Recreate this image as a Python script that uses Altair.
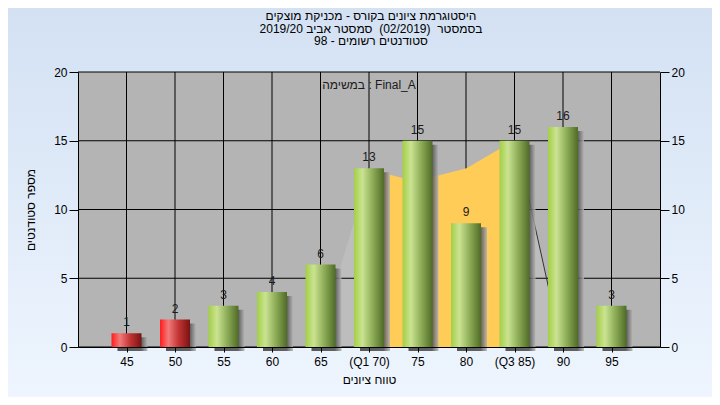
import json
import altair as alt
import pandas as pd

# ---------------- data ----------------
categories = ["45", "50", "55", "60", "65", "(Q1 70)", "75", "80", "(Q3 85)", "90", "95"]
counts = [1, 2, 3, 4, 6, 13, 15, 9, 15, 16, 3]
groups = ["r", "r", "g", "g", "g", "g", "g", "g", "g", "g", "g"]

y_ticks = [0, 5, 10, 15, 20]

# distribution curve behind the bars (x in category-position units)
curve_left_x = [4.92, 5.39, 5.70, 6.00]
curve_left_y = [0.0, 5.6, 9.2, 12.7]
curve_mid_x = [6.00, 6.30, 6.69, 7.31, 8.01, 8.69, 9.00]
curve_mid_y = [12.7, 12.65, 12.3, 12.36, 13.0, 14.4, 15.0]
curve_right_x = [9.00, 9.29, 9.66, 9.97]
curve_right_y = [15.0, 10.9, 5.0, 0.0]

title_lines = [
    "היסטוגרמת ציונים בקורס - מכניקת מוצקים",
    "\u202bבסמסטר\u00a0\u00a0(02/2019)\u00a0\u00a0סמסטר אביב 2019/20\u202c",
    "\u202bסטודנטים רשומים - 98\u202c",
]
note_text = ["במשימה : Final_A"]
note_pos = [6]
note_val = [19.05]
x_title = "טווח ציונים"
y_title = "מספר סטודנטים"

# ---------------- frames ----------------
positions = list(range(1, len(categories) + 1))
bars_df = pd.DataFrame({"pos": positions, "label": categories, "count": counts, "grp": groups})
ygrid_df = pd.DataFrame({"v": y_ticks})
xgrid_df = pd.DataFrame({"pos": positions})
curve_df = pd.DataFrame({
    "pos": curve_left_x + curve_mid_x + curve_right_x,
    "val": curve_left_y + curve_mid_y + curve_right_y,
    "seg": ["left"] * len(curve_left_x) + ["mid"] * len(curve_mid_x) + ["right"] * len(curve_right_x),
})
right_df = pd.DataFrame({"pos": curve_right_x, "val": curve_right_y})
note_df = pd.DataFrame({"pos": note_pos, "val": note_val, "t": note_text})
one_df = pd.DataFrame({"a": [0]})

# ---------------- layout / style ----------------
W, H = 582, 275
PAD_L, PAD_T = 70, 64
TOTAL_W, TOTAL_H = 704, 389
FONT = "Liberation Sans"

xscale = alt.Scale(domain=[0, len(categories) + 1], nice=False, zero=False, padding=0)
yscale = alt.Scale(domain=[0, 20], nice=False, padding=0)

label_expr = json.dumps(categories) + "[datum.value - 1]"
xax = alt.Axis(values=positions, labelExpr=label_expr, title=x_title, grid=False,
               tickSize=5, labelPadding=4, titlePadding=7, domainColor="black",
               tickColor="black", labelColor="black", titleColor="black",
               labelFont=FONT, titleFont=FONT, labelFontSize=12, titleFontSize=12,
               titleFontWeight="normal", zindex=1, labelFlush=False)

def yaxis(orient, title):
    return alt.Axis(orient=orient, values=y_ticks, title=title, grid=False, tickSize=9,
                    labelPadding=2, titlePadding=16, domainColor="black", tickColor="black",
                    labelColor="black", titleColor="black", labelFont=FONT, titleFont=FONT,
                    labelFontSize=12, titleFontSize=12, titleFontWeight="normal", zindex=1)

X = alt.X("pos:Q", scale=xscale, axis=xax)

bg_grad = alt.Gradient(gradient="linear", x1=0, x2=0, y1=0, y2=1, stops=[
    alt.GradientStop(color="#d3e1f3", offset=0),
    alt.GradientStop(color="#eef5fe", offset=1)])
green_grad = alt.Gradient(gradient="linear", x1=0, x2=1, y1=0, y2=0, stops=[
    alt.GradientStop(color="#a3cf45", offset=0),
    alt.GradientStop(color="#cae392", offset=0.28),
    alt.GradientStop(color="#8ead58", offset=0.62),
    alt.GradientStop(color="#4f6b26", offset=1)])
red_grad = alt.Gradient(gradient="linear", x1=0, x2=1, y1=0, y2=0, stops=[
    alt.GradientStop(color="#ff1c1c", offset=0),
    alt.GradientStop(color="#f27a7a", offset=0.28),
    alt.GradientStop(color="#c23434", offset=0.62),
    alt.GradientStop(color="#7a1212", offset=1)])
shadow_grad = alt.Gradient(gradient="linear", x1=0, x2=1, y1=0, y2=0, stops=[
    alt.GradientStop(color="#3c3c3c", offset=0),
    alt.GradientStop(color="#4a4a4a", offset=0.78),
    alt.GradientStop(color="#b4b4b4", offset=1)])

bg = alt.Chart(one_df).mark_rect(fill=bg_grad).encode(
    x=alt.value(-PAD_L), x2=alt.value(TOTAL_W - PAD_L),
    y=alt.value(-PAD_T), y2=alt.value(TOTAL_H - PAD_T))
plot_bg = alt.Chart(one_df).mark_rect(fill="#b4b4b4").encode(
    x=alt.value(0), x2=alt.value(W), y=alt.value(0), y2=alt.value(H))

gray_area = alt.Chart(curve_df).transform_filter("datum.seg != 'mid'").mark_area(
    color="#bdbdbd").encode(x=X, y=alt.Y("val:Q", scale=yscale, axis=None, stack=None),
                            detail="seg:N")

hgrid = alt.Chart(ygrid_df).mark_rule(color="black", strokeWidth=1).encode(
    y=alt.Y("v:Q", scale=yscale, axis=yaxis("right", "")))
vgrid = alt.Chart(xgrid_df).mark_rule(color="black", strokeWidth=1).encode(x=X)

orange = alt.Chart(curve_df).transform_filter("datum.seg == 'mid'").mark_area(
    color="#ffcc58").encode(x=X, y=alt.Y("val:Q", scale=yscale, axis=None, stack=None))
dline = alt.Chart(right_df).mark_line(color="#333333", strokeWidth=1).encode(
    x=X, y=alt.Y("val:Q", scale=yscale, axis=None))

shadow = alt.Chart(bars_df).mark_bar(size=30, xOffset=6, yOffset=4, fill=shadow_grad,
                                     opacity=0.85).encode(
    x=X, y=alt.Y("count:Q", scale=yscale, axis=None))
green = alt.Chart(bars_df).transform_filter("datum.grp == 'g'").mark_bar(
    size=30, fill=green_grad).encode(
    x=X, y=alt.Y("count:Q", scale=yscale, axis=yaxis("left", y_title)))
red = alt.Chart(bars_df).transform_filter("datum.grp == 'r'").mark_bar(
    size=30, fill=red_grad).encode(x=X, y=alt.Y("count:Q", scale=yscale, axis=None))
labels = alt.Chart(bars_df).mark_text(font=FONT, fontSize=12, color="#1a1a1a",
                                      baseline="alphabetic", dy=-7).encode(
    x=X, y=alt.Y("count:Q", scale=yscale, axis=None), text="count:Q")
note = alt.Chart(note_df).mark_text(font=FONT, fontSize=12, color="#1a1a1a",
                                    baseline="middle").encode(
    x=X, y=alt.Y("val:Q", scale=yscale, axis=None), text="t:N")

chart = alt.layer(bg, plot_bg, gray_area, hgrid, vgrid, orange, dline, shadow,
                  green, red, labels, note).resolve_axis(y="independent").properties(
    width=W, height=H,
    autosize=alt.AutoSizeParams(type="none"),
    padding={"left": PAD_L, "top": PAD_T, "right": TOTAL_W - PAD_L - W,
             "bottom": TOTAL_H - PAD_T - H},
    title=alt.TitleParams(text=title_lines, font=FONT, fontSize=12, fontWeight="normal",
                          color="black", anchor="middle", offset=-40, lineHeight=12.5,
                          dx=2),
).configure_view(stroke=None).configure(background="#d3e1f3")

chart.save("out.html", embed_options={"renderer": "svg", "actions": False})
